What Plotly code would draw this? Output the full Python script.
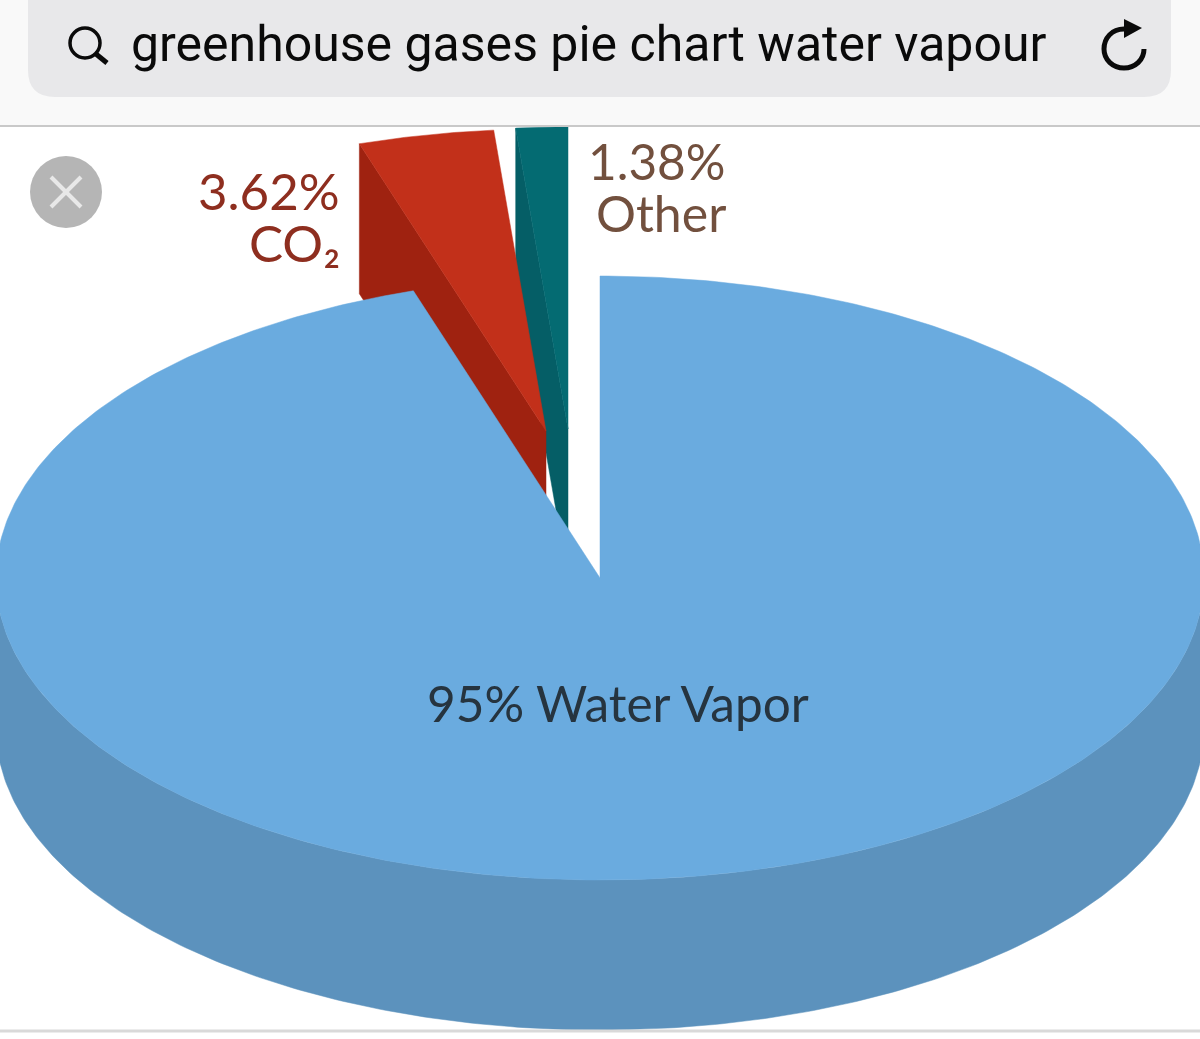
import numpy as np
import plotly.graph_objects as go

# ---- data ----
slice_names = ["Water Vapor", "CO2", "Other"]
slice_shares = [95.0, 3.62, 1.38]
slice_label_top = ["95% Water Vapor", "3.62%", "1.38%"]
slice_label_bottom = ["", "CO₂", "Other"]
search_text = "greenhouse gases pie chart water vapour"

# ---- geometry and style of the tilted pie ----
RX, RY, DEPTH = 604, 302, 150
CENTRES = [(600, 578), (546, 431), (568, 429)]
TOP_COLOURS = ["#6AABDF", "#C2301A", "#046B72"]
SIDE_COLOURS = ["#5C92BD", "#9F2210", "#055E66"]


def rim(cx, cy, a0, a1, n=240, dy=0):
    t = np.radians(np.linspace(a0, a1, n))
    return cx + RX * np.sin(t), cy - RY * np.cos(t) + dy


def polygon(x, y, colour, name):
    return go.Scatter(x=x, y=y, mode="lines", fill="toself", fillcolor=colour,
                      line=dict(width=0.5, color=colour), name=name,
                      hoverinfo="name", showlegend=False)


edges = np.concatenate([[0], np.cumsum(slice_shares)]) * 3.6
fig = go.Figure()

# exploded slices, far one first
for i in (2, 1):
    cx, cy = CENTRES[i]
    a0, a1 = edges[i], edges[i + 1]
    rx0, ry0 = rim(cx, cy, a0, a0, 1)
    fig.add_trace(polygon(
        [rx0[0], cx, cx, rx0[0], rx0[0]],
        [ry0[0], cy, cy + DEPTH, ry0[0] + DEPTH, ry0[0]],
        SIDE_COLOURS[i], slice_names[i] + " side"))
    xs, ys = rim(cx, cy, a0, a1, 60)
    fig.add_trace(polygon(np.r_[cx, xs, cx], np.r_[cy, ys, cy], TOP_COLOURS[i], slice_names[i]))

# large slice: outer wall, then the top face
cx, cy = CENTRES[0]
xo, yo = rim(cx, cy, 90, 270, 240, DEPTH)
xi, yi = rim(cx, cy, 270, 90, 240)
fig.add_trace(polygon(np.r_[xo, xi], np.r_[yo, yi], SIDE_COLOURS[0], slice_names[0] + " side"))
xs, ys = rim(cx, cy, edges[0], edges[1], 480)
fig.add_trace(polygon(np.r_[cx, xs, cx], np.r_[cy, ys, cy], TOP_COLOURS[0], slice_names[0]))

# ---- browser chrome of the screenshot ----
ICON = "#0A0A0A"
shapes = [
    dict(type="rect", x0=0, x1=1200, y0=0, y1=126, fillcolor="#F9F9F9", line_width=0, layer="above"),
    dict(type="line", x0=0, x1=1200, y0=126, y1=126, line=dict(color="#C9C9C9", width=2), layer="above"),
    dict(type="path",
         path="M 28 -10 L 1171 -10 L 1171 70 Q 1171 97 1144 97 L 55 97 Q 28 97 28 70 Z",
         fillcolor="#E8E8EA", line_width=0, layer="above"),
    dict(type="circle", x0=70, x1=100, y0=28, y1=58, line=dict(color=ICON, width=3.5), layer="above"),
    dict(type="line", x0=96, x1=107, y0=54, y1=63, line=dict(color=ICON, width=5), layer="above"),
    dict(type="path", path="M 1124 29 C 1112 29 1104 38 1104 49 C 1104 60 1113 68 1124 68 C 1135 68 1144 60 1144 49",
         line=dict(color=ICON, width=5), layer="above"),
    dict(type="path", path="M 1124 19 L 1142 28 L 1124 38 Z", fillcolor=ICON, line_width=0, layer="above"),
    dict(type="circle", x0=30, x1=102, y0=156, y1=228, fillcolor="#B5B5B5", line_width=0, layer="above"),
    dict(type="line", x0=51, x1=81, y0=177, y1=207, line=dict(color="#E8E8E8", width=4), layer="above"),
    dict(type="line", x0=51, x1=81, y0=207, y1=177, line=dict(color="#E8E8E8", width=4), layer="above"),
    dict(type="line", x0=0, x1=1200, y0=1031, y1=1031, line=dict(color="#D9D9D9", width=3), layer="above"),
]


def text(s, x, y, size, colour, anchor="left", family="Lato"):
    return dict(text=s, x=x, y=y, xref="x", yref="y", xanchor=anchor, yanchor="middle",
                showarrow=False, font=dict(family=family, size=size, color=colour))


annotations = [
    text(search_text, 129, 44, 50, "#0A0A0A", family="Roboto"),
    text(slice_label_top[1], 342, 190, 51, "#8E2E1F", "right"),
    text(slice_label_bottom[1], 342, 242, 51, "#8E2E1F", "right"),
    text(slice_label_top[2], 586, 161, 49.5, "#72503E"),
    text(slice_label_bottom[2], 594, 213, 50, "#72503E"),
    text(slice_label_top[0], 618, 703, 49.5, "#26343F", "center"),
]

fig.update_layout(
    width=1200, height=1039, margin=dict(l=0, r=0, t=0, b=0),
    paper_bgcolor="white", plot_bgcolor="white", showlegend=False,
    xaxis=dict(range=[0, 1200], visible=False, fixedrange=True),
    yaxis=dict(range=[1039, 0], visible=False, fixedrange=True),
    shapes=shapes, annotations=annotations,
)
fig.write_html("out.html", config=dict(displayModeBar=False),
               post_script="document.body.style.margin='0';")
